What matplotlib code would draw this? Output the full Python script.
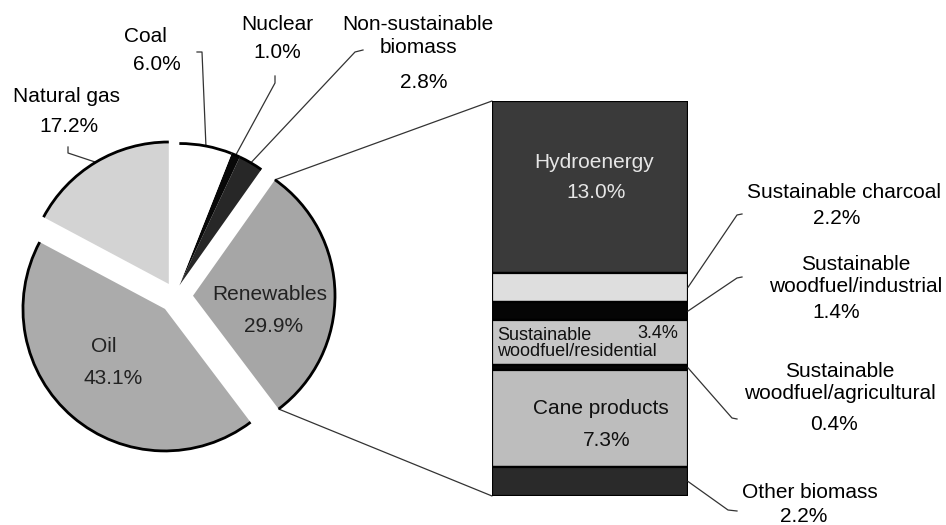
import numpy as np
import matplotlib
matplotlib.use('Agg')
from matplotlib import pyplot as plt
from matplotlib.patches import Arc, ConnectionPatch

plt.rcParams['font.family'] = ['Liberation Sans', 'DejaVu Sans']

W, H = 946, 525

# energy shares (%), pie runs counter-clockwise from 12 o'clock
sources = ['Natural gas', 'Oil', 'Renewables', 'Non-sustainable\nbiomass', 'Nuclear', 'Coal']
shares = [17.2, 43.1, 29.9, 2.8, 1.0, 6.0]
pie_colors = ['#d3d3d3', '#ababab', '#a6a6a6', '#272727', '#080808', 'white']

# split of the renewables slice, top to bottom
parts = ['Hydroenergy', 'Sustainable charcoal', 'Sustainable\nwoodfuel/industrial',
         'Sustainable\nwoodfuel/residential', 'Sustainable\nwoodfuel/agricultural',
         'Cane products', 'Other biomass']
part_shares = [13.0, 2.2, 1.4, 3.4, 0.4, 7.3, 2.2]
bar_colors = ['#3a3a3a', '#dedede', '#050505', '#c6c6c6', '#050505', '#bdbdbd', '#2a2a2a']

pct = lambda v: f'{v:.1f}%'
Y = lambda y: H - y          # pixel row -> axes y

fig = plt.figure(figsize=(W / 100, H / 100), dpi=100)
ax = fig.add_axes([0, 0, 1, 1])
ax.set_zorder(2)

c0 = np.array([176.0, Y(296)])
R = 142
gap = 11
wedges, _ = ax.pie(shares, colors=pie_colors, startangle=90, counterclock=True,
                   explode=[14, 17, 17, gap, gap, gap],
                   center=tuple(c0), radius=R, frame=True,
                   wedgeprops=dict(linewidth=0))

# coal, nuclear and non-sustainable biomass move out together
gmid = np.deg2rad((wedges[3].theta1 + wedges[5].theta2) / 2)
gc = c0 + gap * np.array([np.cos(gmid), np.sin(gmid)])
for w in wedges[3:]:
    w.set_center(tuple(gc))

for w in wedges:
    ax.add_patch(Arc(w.center, 2 * w.r, 2 * w.r, theta1=w.theta1, theta2=w.theta2,
                     color='black', lw=2.0, zorder=3))

def arc_pt(w, frac=0.5):
    a = np.deg2rad(w.theta1 + frac * (w.theta2 - w.theta1))
    return np.array(w.center) + w.r * np.array([np.cos(a), np.sin(a)])

ax.set_xlim(0, W)
ax.set_ylim(0, H)
ax.set_aspect('equal')
ax.axis('off')

fs = 15
lc = '#333333'

# pie labels: (name lines centre, pct centre)
pie_lab = {
    'Natural gas': ((66, 96), (69, 127)),
    'Oil': ((104, 347), (113, 378)),
    'Renewables': ((270, 295), (274, 327)),
    'Non-sustainable\nbiomass': ((418, 36), (424, 82)),
    'Nuclear': ((277, 25), (277, 53)),
    'Coal': ((145, 37), (157, 65)),
}
for name, v in zip(sources, shares):
    (nx, ny), (px, py) = pie_lab[name]
    tc = '#222222' if name in ('Oil', 'Renewables') else 'black'
    ax.text(nx, Y(ny), name, ha='center', va='center', fontsize=fs, color=tc,
            linespacing=1.3, zorder=5)
    ax.text(px, Y(py), pct(v), ha='center', va='center', fontsize=fs, color=tc, zorder=5)

# pie leader lines
elbows = {0: [(68, 153), (68, 147)], 5: [(202, 52), (197, 52)],
          4: [(275, 83), (275, 76)], 3: [(355, 52), (363, 50)]}
for i, pts in elbows.items():
    p = arc_pt(wedges[i])
    xs = [p[0]] + [q[0] for q in pts]
    ys = [p[1]] + [Y(q[1]) for q in pts]
    ax.plot(xs, ys, color=lc, lw=0.9)

# stacked bar for the renewables split
bx = fig.add_axes([492 / W, Y(496) / H, 196 / W, 395 / H])
bx.set_zorder(1)
bottoms = np.cumsum([0] + part_shares[:-1])
bx.bar([0] * len(part_shares), part_shares, bottom=bottoms, width=1,
       color=bar_colors, edgecolor='black', linewidth=1.6)
bx.set_xlim(-0.5, 0.5)
bx.set_ylim(sum(part_shares), 0)
bx.axis('off')

# pie -> bar connectors
ren = wedges[2]
for frac, yb in [(1, 0), (0, sum(part_shares))]:
    con = ConnectionPatch(xyA=tuple(arc_pt(ren, frac)), coordsA=ax.transData,
                          xyB=(-0.5, yb), coordsB=bx.transData, color=lc, lw=0.9)
    fig.add_artist(con)

def bar_to_px(yv):
    return ax.transData.inverted().transform(bx.transData.transform((0.5, yv)))

mids = bottoms + np.array(part_shares) / 2
right_leads = {1: [(737, 215), (742, 214)], 2: [(737, 278), (742, 277)],
               4: [(732, 418), (737, 419)], 6: [(728, 510), (737, 511)]}
for i, pts in right_leads.items():
    p = bar_to_px(mids[i])
    xs = [p[0]] + [q[0] for q in pts]
    ys = [p[1]] + [Y(q[1]) for q in pts]
    ax.plot(xs, ys, color=lc, lw=0.9, zorder=4)

# bar labels outside
out_lab = {1: ((844, 192), (837, 218)), 2: ((856, 275.5), (836, 313)),
           4: ((840, 382.5), (834, 425)), 6: ((810, 493), (804, 516))}
for i, ((nx, ny), (px, py)) in out_lab.items():
    ax.text(nx, Y(ny), parts[i], ha='center', va='center', fontsize=fs, linespacing=1.2)
    ax.text(px, Y(py), pct(part_shares[i]), ha='center', va='center', fontsize=fs)

# bar labels inside
ax.text(594, Y(163), parts[0], ha='center', va='center', fontsize=fs, color='#e6e6e6', zorder=5)
ax.text(596, Y(192), pct(part_shares[0]), ha='center', va='center', fontsize=fs,
        color='#e6e6e6', zorder=5)
ax.text(601, Y(408), parts[5], ha='center', va='center', fontsize=fs, color='#111111', zorder=5)
ax.text(607, Y(440), pct(part_shares[5]), ha='center', va='center', fontsize=fs,
        color='#111111', zorder=5)
ax.text(497, Y(343.5), parts[3], ha='left', va='center', fontsize=13, color='#111111',
        linespacing=1.0, zorder=5)
ax.text(678, Y(334), pct(part_shares[3]), ha='right', va='center', fontsize=13,
        color='#111111', zorder=5)

fig.savefig('out.png', dpi=100)
